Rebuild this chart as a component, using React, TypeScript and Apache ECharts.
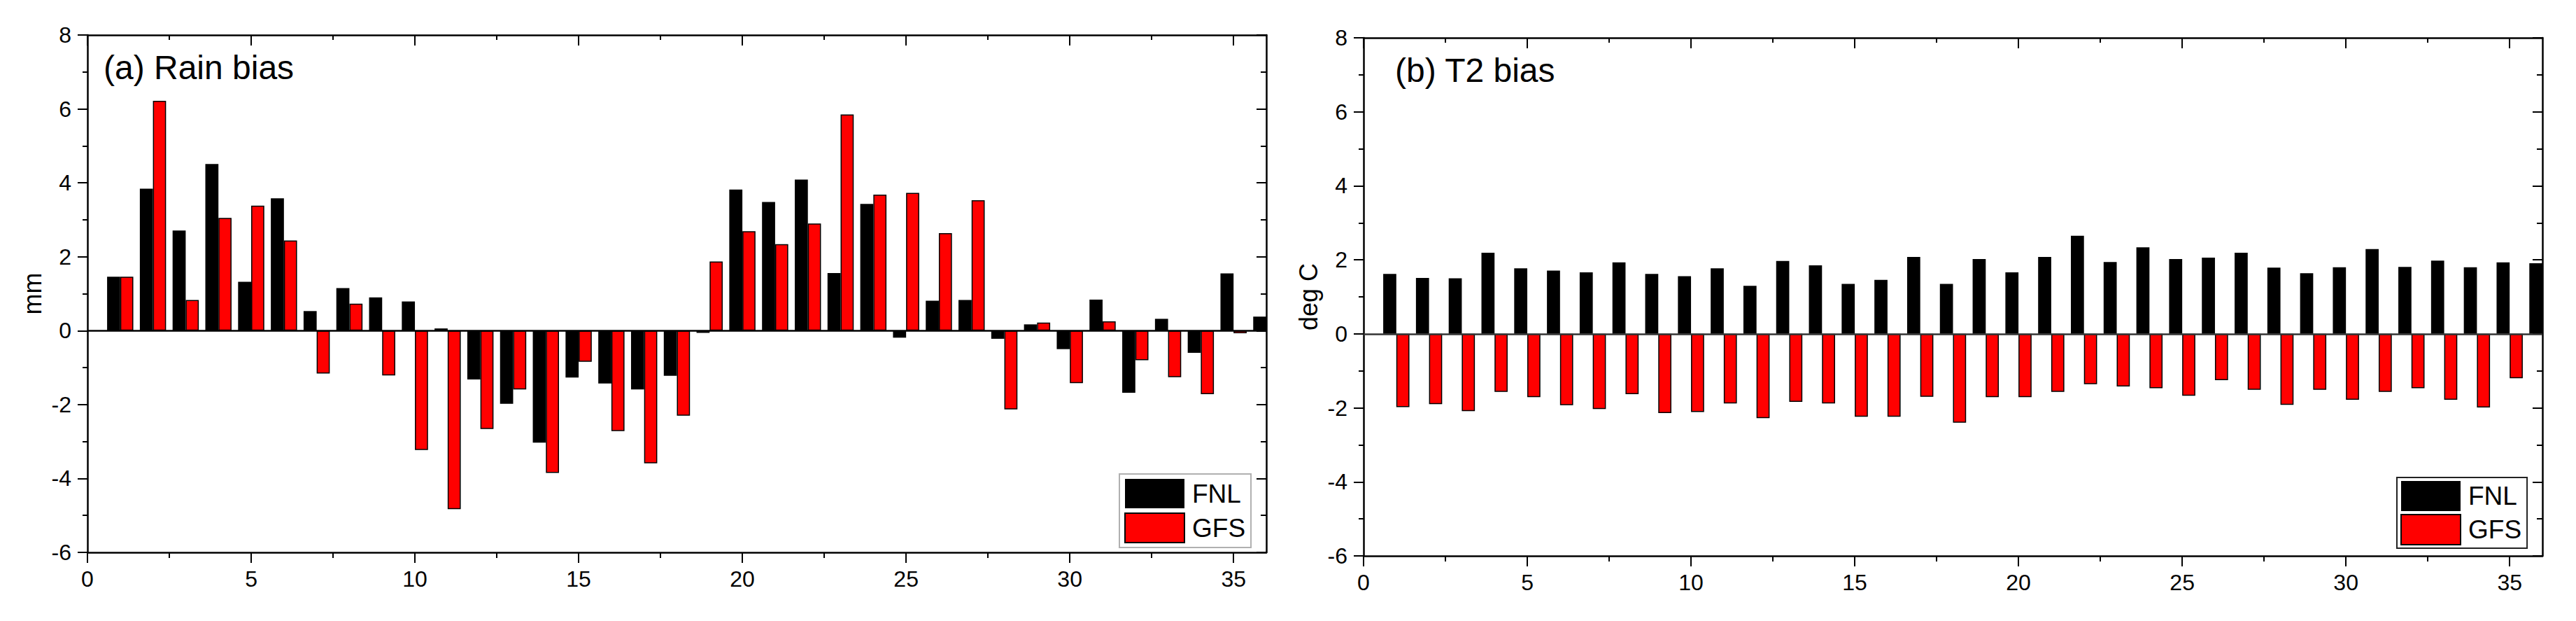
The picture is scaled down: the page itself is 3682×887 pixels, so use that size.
import React, { useEffect, useRef } from "react";
import * as echarts from "echarts";

// ---- data ----
const days = [1, 2, 3, 4, 5, 6, 7, 8, 9, 10, 11, 12, 13, 14, 15, 16, 17, 18, 19, 20, 21, 22, 23, 24, 25, 26, 27, 28, 29, 30, 31, 32, 33, 34, 35, 36];
const seriesNames = ["FNL", "GFS"];
const xTickValues = [0, 5, 10, 15, 20, 25, 30, 35];
const xMinorTickValues = [2.5, 7.5, 12.5, 17.5, 22.5, 27.5, 32.5];

const fnlRain = [1.46, 3.84, 2.71, 4.51, 1.32, 3.58, 0.53, 1.15, 0.9, 0.79, 0.06, -1.32, -1.98, -3.03, -1.27, -1.43, -1.59, -1.22, -0.06, 3.82, 3.48, 4.09, 1.56, 3.43, -0.19, 0.81, 0.83, -0.22, 0.17, -0.5, 0.84, -1.68, 0.32, -0.6, 1.55, 0.38];
const gfsRain = [1.46, 6.22, 0.83, 3.05, 3.38, 2.44, -1.16, 0.73, -1.21, -3.23, -4.83, -2.66, -1.59, -3.85, -0.84, -2.72, -3.59, -2.3, 1.87, 2.69, 2.34, 2.9, 5.85, 3.68, 3.73, 2.64, 3.53, -2.13, 0.22, -1.42, 0.25, -0.8, -1.26, -1.72, -0.07, null];

const fnlT2 = [1.62, 1.51, 1.5, 2.19, 1.77, 1.71, 1.66, 1.93, 1.62, 1.56, 1.77, 1.3, 1.97, 1.85, 1.35, 1.46, 2.08, 1.35, 2.02, 1.66, 2.08, 2.65, 1.94, 2.34, 2.02, 2.06, 2.19, 1.79, 1.64, 1.8, 2.29, 1.81, 1.98, 1.8, 1.93, 1.91];
const gfsT2 = [-1.98, -1.9, -2.09, -1.57, -1.71, -1.93, -2.03, -1.63, -2.14, -2.11, -1.88, -2.28, -1.84, -1.88, -2.24, -2.24, -1.7, -2.4, -1.71, -1.71, -1.57, -1.36, -1.42, -1.47, -1.67, -1.25, -1.51, -1.92, -1.51, -1.78, -1.57, -1.47, -1.78, -1.99, -1.2, null];

const FONT = '"Liberation Sans", Arial, Helvetica, sans-serif';

type Panel = {
  grid: { left: number; top: number; width: number; height: number };
  title: string;
  titleX: number;
  titleY: number;
  yName: string;
  fnl: (number | null)[];
  gfs: (number | null)[];
  legend: { left: number; top: number; border: string; padding: number[]; gap: number; h: number };
  zeroColor: string;
};

const panels: Panel[] = [
  {
    grid: { left: 125, top: 50, width: 1685, height: 739 },
    title: "(a) Rain bias",
    titleX: 148,
    titleY: 96,
    yName: "mm",
    fnl: fnlRain,
    gfs: gfsRain,
    legend: { left: 1600, top: 677, border: "#b0b0b0", padding: [7, 8, 6, 7], gap: 6, h: 42 },
    zeroColor: "#000",
  },
  {
    grid: { left: 1949, top: 54, width: 1685, height: 740 },
    title: "(b) T2 bias",
    titleX: 1994,
    titleY: 100,
    yName: "deg C",
    fnl: fnlT2,
    gfs: gfsT2,
    legend: { left: 3426, top: 682, border: "#222", padding: [5, 8, 4, 5], gap: 4, h: 43 },
    zeroColor: "#333",
  },
];

function buildOption() {
  const grids: any[] = [];
  const xAxes: any[] = [];
  const yAxes: any[] = [];
  const series: any[] = [];
  const legends: any[] = [];
  const graphics: any[] = [];

  const lineStyle = { color: "#000", width: 2.5 };
  const tickLine = { color: "#000", width: 2 };

  panels.forEach((p, i) => {
    grids.push({ ...p.grid, containLabel: false, outerBoundsMode: "none", show: false });
    const xb = xAxes.length;
    const yb = yAxes.length;
    const xCommon = { type: "value", gridIndex: i, min: 0, max: 36, interval: 5, splitLine: { show: false } };
    // bottom major
    xAxes.push({
      ...xCommon,
      position: "bottom",
      axisLine: { show: true, onZero: false, lineStyle },
      axisTick: { show: true, inside: false, length: 15, lineStyle: tickLine, customValues: xTickValues },
      axisLabel: { show: true, margin: 22, fontSize: 32, color: "#000", fontFamily: FONT, customValues: xTickValues },
    });
    // bottom minor
    xAxes.push({
      ...xCommon,
      position: "bottom",
      axisLine: { show: false, onZero: false },
      axisTick: { show: true, inside: false, length: 8, lineStyle: tickLine, customValues: xMinorTickValues },
      axisLabel: { show: false },
    });
    // top major
    xAxes.push({
      ...xCommon,
      position: "top",
      axisLine: { show: true, onZero: false, lineStyle },
      axisTick: { show: true, inside: true, length: 15, lineStyle: tickLine, customValues: xTickValues },
      axisLabel: { show: false },
    });
    // top minor
    xAxes.push({
      ...xCommon,
      position: "top",
      axisLine: { show: false, onZero: false },
      axisTick: { show: true, inside: true, length: 7, lineStyle: tickLine, customValues: xMinorTickValues },
      axisLabel: { show: false },
    });
    const yCommon = { type: "value", gridIndex: i, min: -6, max: 8, interval: 2, splitLine: { show: false } };
    yAxes.push({
      ...yCommon,
      position: "left",
      name: p.yName,
      nameLocation: "middle",
      nameGap: 61,
      nameTextStyle: { fontSize: 36, color: "#000", fontFamily: FONT },
      axisLine: { show: true, onZero: false, lineStyle },
      axisTick: { show: true, inside: false, length: 14, lineStyle: tickLine },
      minorTick: { show: true, splitNumber: 2, length: 7, lineStyle: tickLine },
      axisLabel: { show: true, margin: 23, fontSize: 32, color: "#000", fontFamily: FONT },
    });
    yAxes.push({
      ...yCommon,
      position: "right",
      axisLine: { show: true, onZero: false, lineStyle },
      axisTick: { show: true, inside: true, length: 14, lineStyle: tickLine },
      minorTick: { show: true, splitNumber: 2, length: 8, lineStyle: tickLine },
      axisLabel: { show: false },
    });

    series.push({
      type: "bar",
      name: seriesNames[0],
      xAxisIndex: xb,
      yAxisIndex: yb,
      data: days.map((d, k) => [d, p.fnl[k]]),
      barWidth: "40%",
      barGap: "0%",
      clip: true,
      silent: true,
      itemStyle: { color: "#000" },
      markLine: {
        silent: true,
        symbol: ["none", "none"],
        label: { show: false },
        lineStyle: { color: p.zeroColor, width: 2.5, type: "solid" },
        data: [{ yAxis: 0 }],
      },
    });
    series.push({
      type: "bar",
      name: seriesNames[1],
      xAxisIndex: xb,
      yAxisIndex: yb,
      data: days.map((d, k) => [d, p.gfs[k]]),
      barWidth: "40%",
      barGap: "0%",
      clip: true,
      silent: true,
      itemStyle: { color: "#ff0000", borderColor: "#000", borderWidth: 1.5 },
    });

    legends.push({
      orient: "vertical",
      left: p.legend.left,
      top: p.legend.top,
      itemWidth: 85,
      itemHeight: p.legend.h,
      itemGap: p.legend.gap,
      padding: p.legend.padding,
      icon: "rect",
      selectedMode: false,
      backgroundColor: "#fff",
      borderColor: p.legend.border,
      borderWidth: 2,
      textStyle: { fontSize: 37, color: "#000", fontFamily: FONT, padding: [0, 0, 0, 6] },
      data: seriesNames,
    });

    graphics.push({
      type: "text",
      x: p.titleX,
      y: p.titleY,
      z: 100,
      style: {
        text: p.title,
        fontSize: 48,
        fontFamily: FONT,
        fill: "#000",
        align: "left",
        verticalAlign: "middle",
      },
    });
  });

  return {
    animation: false,
    backgroundColor: "#fff",
    textStyle: { fontFamily: FONT },
    grid: grids,
    xAxis: xAxes,
    yAxis: yAxes,
    legend: legends,
    series,
    graphic: graphics,
  };
}

export default function App() {
  const ref = useRef<HTMLDivElement>(null);
  useEffect(() => {
    if (!ref.current) return;
    const chart = echarts.init(ref.current, null, { renderer: "svg" });
    chart.setOption(buildOption() as any);
    return () => chart.dispose();
  }, []);
  return (
    <div
      ref={ref}
      style={{ position: "fixed", left: 0, top: 0, width: 3682, height: 887, background: "#fff" }}
    />
  );
}
